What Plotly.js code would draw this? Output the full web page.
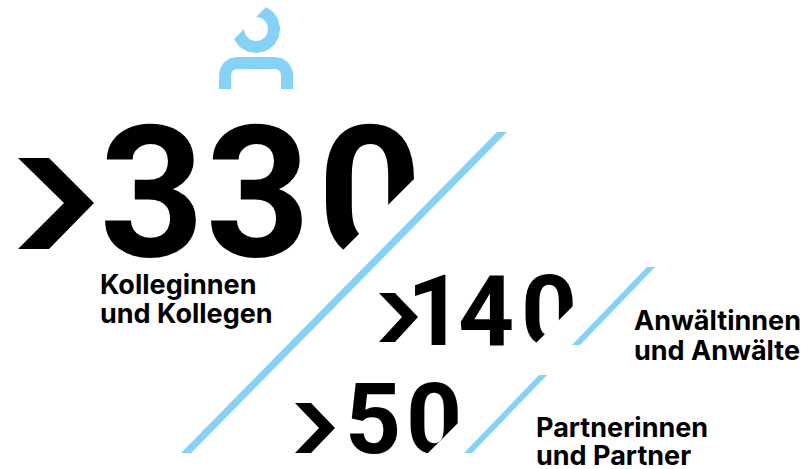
<!DOCTYPE html>
<html><head><meta charset="utf-8"><script src="https://cdn.plot.ly/plotly-3.0.1.min.js"></script>
<style>html,body{margin:0;padding:0;background:#fff}</style></head><body><div id="c" style="width:809px;height:469px"></div>
<script>
const digits=["3","3","0","1","4","0","5","0"];
const digitX=[152,258,370,435,486,549,373,434];
const digitY=[210,210,210,320,320,320,428,428];
const digitSize=[183,183,183,98,98,98,98,98];
const captionLines=["Kolleginnen","und Kollegen","Anwältinnen","und Anwälte","Partnerinnen","und Partner"];
const capX=[100,100,634,634,536,536];
const capY=[287,316,323,353,430,458];
const capSize=[27,27,27,27,27,27];
const slashX=[[181,191,507,497],[572,580,655,647],[464,472,547,539]];
const slashY=[[453,453,132,132],[345,345,267,267],[453,453,375,375]];
const cutX=[[425,425,323],[580,580,529],[470,470,421]];
const cutY=[[168,270,270],[299,350,350],[411,460,460]];
const chevX=[[18,49,94,49,18,64],[379,395,418,395,379,402],[295,311,335,311,295,319]];
const chevY=[[158,158,203,249,249,203],[293,293,317,342,342,317],[403,403,428,453,453,428]];
const BLUE="#86d1f6";
function poly(x,y,color){return {x:x,y:y,mode:"lines",fill:"toself",fillcolor:color,line:{width:0,color:color},hoverinfo:"skip"};}
function arc(cx,cy,r,a0,a1,n){const p=[];for(let i=0;i<=n;i++){const a=(a0+(a1-a0)*i/n)*Math.PI/180;p.push([cx+r*Math.cos(a),cy+r*Math.sin(a)]);}return p;}
// person icon
const head=arc(256,29,24,-65.7,155.7,40).concat(arc(256,29,12,180,-90,30));
const body=[[219,89]].concat(arc(237,75,18,180,270,10),arc(275,75,18,270,360,10),[[293,89],[281,89]],arc(275,75,6,0,-90,6),arc(237,75,6,-90,-180,6),[[231,89]]);
const traces=[];
digits.forEach((d,i)=>{
 traces.push({x:[digitX[i]],y:[digitY[i]],mode:"text",text:[d],textposition:"middle center",cliponaxis:false,hoverinfo:"skip",
  textfont:{family:"Roboto, sans-serif",size:digitSize[i],color:"#000",weight:680}});
});
cutX.forEach((c,i)=>traces.push(poly(c,cutY[i],"#ffffff")));
slashX.forEach((s,i)=>traces.push(poly(s,slashY[i],BLUE)));
chevX.forEach((c,i)=>traces.push(poly(c,chevY[i],"#000000")));
traces.push(poly(head.map(p=>p[0]),head.map(p=>p[1]),BLUE));
traces.push(poly(body.map(p=>p[0]),body.map(p=>p[1]),BLUE));
captionLines.forEach((c,i)=>{
 traces.push({x:[capX[i]],y:[capY[i]],mode:"text",text:[c],textposition:"middle right",hoverinfo:"skip",cliponaxis:false,
  textfont:{family:"Inter, sans-serif",size:capSize[i],color:"#000",weight:700}});
});
const layout={width:809,height:469,margin:{l:0,r:0,t:0,b:0},showlegend:false,paper_bgcolor:"#fff",plot_bgcolor:"#fff",
 xaxis:{range:[0,809],visible:false,fixedrange:true},yaxis:{range:[469,0],visible:false,fixedrange:true}};
Plotly.newPlot("c",traces,layout,{displayModeBar:false,staticPlot:true});
</script></body></html>
